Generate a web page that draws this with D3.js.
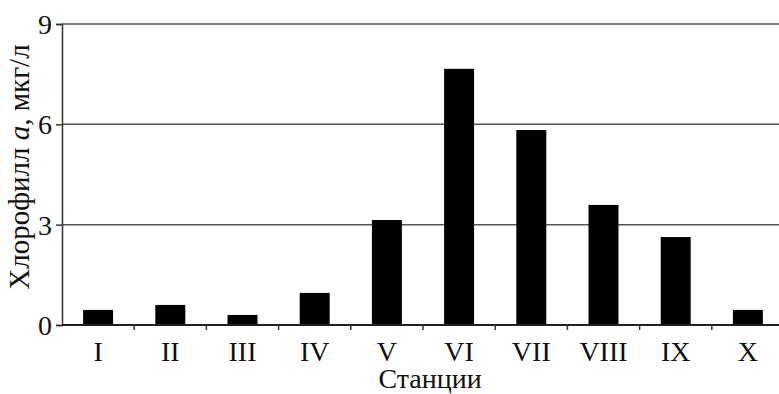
<!DOCTYPE html>
<html>
<head>
<meta charset="utf-8">
<script src="https://cdn.jsdelivr.net/npm/d3@7"></script>
<style>
  html, body { margin: 0; padding: 0; background: #fff; }
  svg { display: block; }
</style>
</head>
<body>
<svg id="chart" width="779" height="394"></svg>
<script>
// Chlorophyll a concentration by station
const stations = ["I", "II", "III", "IV", "V", "VI", "VII", "VIII", "IX", "X"];
const chlorophyll = [0.45, 0.6, 0.3, 0.96, 3.14, 7.66, 5.83, 3.59, 2.63, 0.45];
const yTicks = [0, 3, 6, 9];

const serif = "'Liberation Serif', 'Times New Roman', Times, serif";
const svg = d3.select("#chart");
const plot = { left: 62, right: 784, top: 24, bottom: 325 };

const x = d3.scaleBand()
  .domain(stations)
  .range([plot.left, plot.right])
  .paddingInner(0.585)
  .paddingOuter(0.2925);

const y = d3.scaleLinear()
  .domain([0, 9])
  .range([plot.bottom, plot.top]);

// horizontal grid lines
svg.append("g")
  .selectAll("line")
  .data(yTicks.filter(d => d > 0))
  .join("line")
  .attr("x1", plot.left).attr("x2", plot.right)
  .attr("y1", d => y(d)).attr("y2", d => y(d))
  .attr("stroke", "#555").attr("stroke-width", 1.5);

// bars
svg.append("g")
  .selectAll("rect")
  .data(stations.map((s, i) => ({ s, v: chlorophyll[i] })))
  .join("rect")
  .attr("x", d => x(d.s))
  .attr("y", d => y(d.v))
  .attr("width", x.bandwidth())
  .attr("height", d => y(0) - y(d.v))
  .attr("fill", "#000");

// y axis
const yAxis = svg.append("g")
  .attr("transform", `translate(${plot.left},0)`)
  .call(d3.axisLeft(y).tickValues(yTicks).tickSize(6).tickPadding(4).tickFormat(d3.format("d")));
yAxis.attr("font-family", null);
yAxis.select(".domain").attr("stroke", "#333").attr("stroke-width", 1.5);
yAxis.selectAll(".tick line").attr("stroke", "#333").attr("stroke-width", 1.5);
yAxis.selectAll("text")
  .style("font-family", serif)
  .style("font-size", "28px")
  .attr("fill", "#111")
  .attr("dy", "0.34em");

// x axis: baseline with ticks at band boundaries
const xg = svg.append("g");
xg.append("line")
  .attr("x1", plot.left).attr("x2", plot.right)
  .attr("y1", plot.bottom).attr("y2", plot.bottom)
  .attr("stroke", "#222").attr("stroke-width", 1.8);
const step = x.step();
const boundaries = d3.range(1, stations.length).map(i => x(stations[i]) - step * x.paddingInner() / 2);
xg.selectAll("line.tk")
  .data(boundaries)
  .join("line")
  .attr("class", "tk")
  .attr("x1", d => d).attr("x2", d => d)
  .attr("y1", plot.bottom).attr("y2", plot.bottom + 5)
  .attr("stroke", "#333").attr("stroke-width", 1.5);
xg.selectAll("text")
  .data(stations)
  .join("text")
  .attr("x", d => x(d) + x.bandwidth() / 2)
  .attr("y", 361)
  .attr("text-anchor", "middle")
  .style("font-family", serif)
  .style("font-size", "28px")
  .attr("fill", "#111")
  .text(d => d);

// axis titles
svg.append("text")
  .attr("x", 430).attr("y", 388)
  .attr("text-anchor", "middle")
  .style("font-family", serif)
  .style("font-size", "28px")
  .attr("fill", "#111")
  .text("Станции");

const yl = svg.append("text")
  .attr("transform", "translate(29,167) rotate(-90)")
  .attr("text-anchor", "middle")
  .style("font-family", serif)
  .style("font-size", "29px")
  .attr("fill", "#111");
yl.append("tspan").text("Хлорофилл ");
yl.append("tspan").style("font-style", "italic").text("a");
yl.append("tspan").text(", мкг/л");
</script>
</body>
</html>
